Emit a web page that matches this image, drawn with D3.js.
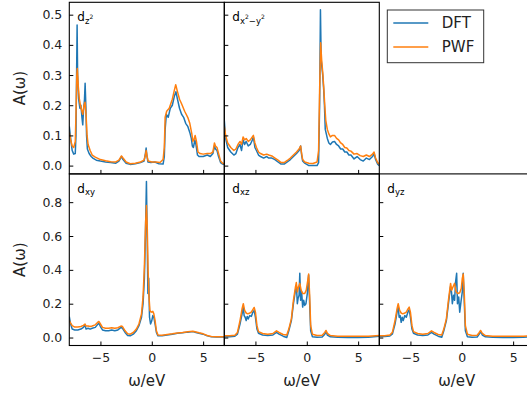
<!DOCTYPE html>
<html>
<head>
<meta charset="utf-8">
<script src="https://cdn.jsdelivr.net/npm/d3@7"></script>
<style>
  body { margin: 0; background: #fff; }
  svg { font-family: "DejaVu Sans", sans-serif; display: block; }
</style>
</head>
<body>
<div id="chart"></div>
<script>
// series are [omega, A] pairs
const dz2_dft = [[-8.03,0.13],[-7.9,0.09],[-7.75,0.05],[-7.6,0.038],[-7.45,0.04],[-7.38,0.1],[-7.32,0.3],[-7.27,0.466],[-7.22,0.3],[-7.12,0.22],[-7.0,0.19],[-6.9,0.2],[-6.8,0.16],[-6.72,0.135],[-6.65,0.18],[-6.55,0.22],[-6.49,0.273],[-6.42,0.2],[-6.35,0.1],[-6.27,0.055],[-6.1,0.04],[-5.9,0.03],[-5.7,0.024],[-5.4,0.018],[-5.0,0.015],[-4.5,0.012],[-4.0,0.01],[-3.5,0.008],[-3.2,0.015],[-2.95,0.03],[-2.8,0.02],[-2.5,0.008],[-2.1,0.004],[-1.6,0.006],[-1.1,0.01],[-0.75,0.015],[-0.62,0.04],[-0.55,0.058],[-0.48,0.035],[-0.38,0.012],[-0.1,0.01],[0.3,0.012],[0.7,0.006],[1.1,0.005],[1.22,0.03],[1.3,0.12],[1.42,0.17],[1.6,0.16],[1.8,0.19],[2.0,0.2],[2.2,0.23],[2.35,0.245],[2.5,0.22],[2.7,0.19],[2.9,0.17],[3.1,0.16],[3.3,0.14],[3.5,0.13],[3.7,0.11],[3.85,0.09],[3.95,0.065],[4.05,0.06],[4.2,0.085],[4.3,0.07],[4.45,0.035],[4.6,0.03],[5.0,0.03],[5.4,0.035],[5.7,0.03],[5.95,0.04],[6.1,0.065],[6.2,0.055],[6.35,0.05],[6.5,0.03],[6.7,0.01],[6.9,0.005],[7.06,0.004]];
const dz2_pwf = [[-8.03,0.11],[-7.9,0.085],[-7.75,0.065],[-7.6,0.06],[-7.45,0.08],[-7.38,0.17],[-7.3,0.3],[-7.25,0.322],[-7.15,0.26],[-7.05,0.22],[-6.95,0.2],[-6.8,0.18],[-6.72,0.17],[-6.6,0.2],[-6.5,0.21],[-6.4,0.17],[-6.3,0.1],[-6.2,0.07],[-6.0,0.05],[-5.8,0.035],[-5.5,0.028],[-5.0,0.02],[-4.5,0.016],[-4.0,0.013],[-3.5,0.012],[-3.2,0.018],[-2.95,0.032],[-2.8,0.025],[-2.5,0.012],[-2.1,0.006],[-1.6,0.008],[-1.1,0.012],[-0.75,0.018],[-0.62,0.035],[-0.55,0.05],[-0.45,0.03],[-0.35,0.015],[0,0.012],[0.4,0.012],[0.8,0.01],[1.1,0.02],[1.22,0.06],[1.3,0.16],[1.45,0.18],[1.7,0.19],[2.0,0.22],[2.2,0.25],[2.33,0.268],[2.5,0.245],[2.7,0.22],[2.9,0.205],[3.2,0.18],[3.5,0.16],[3.7,0.14],[3.9,0.105],[4.0,0.08],[4.1,0.085],[4.22,0.1],[4.35,0.08],[4.5,0.045],[4.7,0.04],[5.0,0.038],[5.4,0.04],[5.7,0.04],[5.95,0.045],[6.1,0.075],[6.2,0.065],[6.35,0.06],[6.5,0.04],[6.7,0.015],[6.9,0.008],[7.06,0.006]];

const dx2y2_dft = [[-8.03,0.15],[-7.9,0.09],[-7.7,0.06],[-7.4,0.045],[-7.1,0.035],[-6.9,0.04],[-6.7,0.06],[-6.5,0.07],[-6.35,0.05],[-6.2,0.085],[-6.05,0.07],[-5.9,0.08],[-5.7,0.065],[-5.5,0.07],[-5.3,0.085],[-5.2,0.095],[-5.05,0.06],[-4.9,0.05],[-4.7,0.035],[-4.5,0.03],[-4.2,0.025],[-3.9,0.03],[-3.7,0.025],[-3.4,0.025],[-3.1,0.02],[-2.8,0.012],[-2.5,0.005],[-2.2,0.005],[-1.9,0.012],[-1.6,0.02],[-1.3,0.03],[-1.0,0.04],[-0.75,0.05],[-0.6,0.065],[-0.5,0.035],[-0.4,0.015],[-0.2,0.008],[0.2,0.0],[0.6,0.0],[1.0,0.0],[1.15,0.01],[1.25,0.2],[1.33,0.516],[1.4,0.35],[1.55,0.3],[1.65,0.25],[1.72,0.2],[1.8,0.12],[2.0,0.09],[2.15,0.075],[2.3,0.07],[2.5,0.078],[2.7,0.08],[2.9,0.07],[3.1,0.065],[3.3,0.055],[3.5,0.055],[3.7,0.045],[3.9,0.045],[4.1,0.035],[4.3,0.035],[4.6,0.022],[4.9,0.03],[5.2,0.02],[5.5,0.015],[5.8,0.025],[6.1,0.02],[6.4,0.03],[6.55,0.04],[6.7,0.02],[6.9,0.005],[7.06,0.0]];
const dx2y2_pwf = [[-8.03,0.13],[-7.9,0.1],[-7.7,0.075],[-7.4,0.06],[-7.1,0.05],[-6.9,0.055],[-6.7,0.07],[-6.5,0.08],[-6.35,0.07],[-6.2,0.095],[-6.05,0.085],[-5.9,0.09],[-5.7,0.08],[-5.5,0.085],[-5.3,0.095],[-5.2,0.1],[-5.05,0.075],[-4.9,0.06],[-4.7,0.045],[-4.5,0.04],[-4.2,0.035],[-3.9,0.038],[-3.7,0.035],[-3.4,0.032],[-3.1,0.025],[-2.8,0.018],[-2.5,0.01],[-2.2,0.01],[-1.9,0.017],[-1.6,0.025],[-1.3,0.035],[-1.0,0.045],[-0.75,0.055],[-0.6,0.065],[-0.5,0.04],[-0.4,0.02],[-0.2,0.012],[0.2,0.008],[0.6,0.007],[1.0,0.012],[1.15,0.05],[1.25,0.25],[1.35,0.407],[1.45,0.35],[1.55,0.31],[1.65,0.26],[1.75,0.2],[1.85,0.15],[2.0,0.12],[2.15,0.105],[2.3,0.095],[2.5,0.1],[2.7,0.1],[2.9,0.09],[3.1,0.085],[3.3,0.075],[3.5,0.07],[3.7,0.06],[3.9,0.058],[4.1,0.05],[4.3,0.048],[4.6,0.038],[4.9,0.04],[5.2,0.033],[5.5,0.03],[5.8,0.035],[6.1,0.03],[6.4,0.038],[6.55,0.045],[6.7,0.025],[6.9,0.01],[7.06,0.005]];

const dxy_dft = [[-8.03,0.124],[-7.9,0.08],[-7.75,0.05],[-7.5,0.045],[-7.2,0.045],[-6.9,0.05],[-6.65,0.06],[-6.5,0.075],[-6.4,0.05],[-6.2,0.055],[-6.0,0.05],[-5.8,0.055],[-5.5,0.06],[-5.3,0.075],[-5.15,0.085],[-5.0,0.065],[-4.8,0.045],[-4.5,0.04],[-4.2,0.04],[-3.9,0.045],[-3.6,0.04],[-3.3,0.045],[-3.0,0.06],[-2.85,0.055],[-2.6,0.03],[-2.35,0.012],[-2.1,0.01],[-1.8,0.02],[-1.5,0.04],[-1.25,0.07],[-1.0,0.12],[-0.85,0.2],[-0.72,0.35],[-0.62,0.6],[-0.52,0.922],[-0.45,0.6],[-0.38,0.26],[-0.3,0.35],[-0.22,0.12],[-0.12,0.08],[0.0,0.1],[0.1,0.13],[0.2,0.12],[0.32,0.08],[0.45,0.03],[0.6,0.01],[1.0,0.01],[1.5,0.015],[2.0,0.02],[2.5,0.025],[3.0,0.028],[3.5,0.032],[4.0,0.035],[4.3,0.03],[4.6,0.025],[5.0,0.02],[5.4,0.01],[5.8,0.004],[6.3,0.003],[7.06,0.003]];
const dxy_pwf = [[-8.03,0.1],[-7.9,0.085],[-7.75,0.07],[-7.5,0.062],[-7.2,0.062],[-6.9,0.065],[-6.65,0.072],[-6.5,0.08],[-6.4,0.068],[-6.2,0.068],[-6.0,0.065],[-5.8,0.068],[-5.5,0.075],[-5.3,0.088],[-5.15,0.095],[-5.0,0.08],[-4.8,0.06],[-4.5,0.055],[-4.2,0.055],[-3.9,0.058],[-3.6,0.055],[-3.3,0.058],[-3.0,0.068],[-2.85,0.065],[-2.6,0.04],[-2.35,0.022],[-2.1,0.02],[-1.8,0.03],[-1.5,0.05],[-1.25,0.08],[-1.0,0.14],[-0.85,0.24],[-0.72,0.42],[-0.6,0.68],[-0.52,0.78],[-0.44,0.65],[-0.36,0.4],[-0.28,0.25],[-0.18,0.16],[-0.05,0.15],[0.1,0.155],[0.2,0.14],[0.32,0.1],[0.45,0.04],[0.6,0.015],[1.0,0.014],[1.5,0.018],[2.0,0.022],[2.5,0.027],[3.0,0.03],[3.5,0.034],[4.0,0.037],[4.3,0.033],[4.6,0.028],[5.0,0.022],[5.4,0.012],[5.8,0.006],[6.3,0.005],[7.06,0.004]];

const dxz_dft = [[-8.03,0.005],[-7.5,0.005],[-7.0,0.008],[-6.75,0.02],[-6.5,0.08],[-6.3,0.14],[-6.18,0.18],[-6.1,0.13],[-6.0,0.12],[-5.9,0.1],[-5.8,0.125],[-5.7,0.11],[-5.55,0.13],[-5.4,0.125],[-5.25,0.15],[-5.12,0.16],[-5.0,0.12],[-4.85,0.05],[-4.7,0.025],[-4.3,0.015],[-3.8,0.012],[-3.3,0.015],[-2.95,0.03],[-2.7,0.02],[-2.3,0.008],[-1.95,0.0],[-1.75,0.04],[-1.5,0.1],[-1.3,0.2],[-1.1,0.28],[-1.0,0.3],[-0.92,0.2],[-0.85,0.23],[-0.75,0.25],[-0.68,0.38],[-0.6,0.22],[-0.5,0.27],[-0.4,0.18],[-0.3,0.22],[-0.2,0.19],[-0.08,0.2],[0.05,0.26],[0.18,0.37],[0.28,0.2],[0.38,0.04],[0.55,0.005],[1.0,0.002],[1.5,0.003],[1.75,0.02],[1.87,0.035],[2.0,0.015],[2.3,0.004],[3.0,0.002],[4.0,0.001],[5.0,0.001],[6.0,0.002],[7.06,0.008]];
const dxz_pwf = [[-8.03,0.01],[-7.5,0.01],[-7.0,0.014],[-6.75,0.03],[-6.5,0.1],[-6.3,0.17],[-6.18,0.2],[-6.05,0.16],[-5.9,0.145],[-5.75,0.14],[-5.55,0.145],[-5.4,0.15],[-5.25,0.165],[-5.12,0.178],[-5.0,0.15],[-4.85,0.07],[-4.7,0.035],[-4.3,0.024],[-3.8,0.02],[-3.3,0.024],[-2.95,0.04],[-2.7,0.03],[-2.3,0.018],[-1.95,0.015],[-1.75,0.05],[-1.5,0.11],[-1.3,0.22],[-1.1,0.3],[-1.02,0.325],[-0.92,0.27],[-0.8,0.3],[-0.68,0.32],[-0.55,0.28],[-0.4,0.26],[-0.2,0.26],[-0.05,0.28],[0.1,0.34],[0.18,0.375],[0.28,0.25],[0.38,0.07],[0.55,0.02],[1.0,0.012],[1.5,0.014],[1.75,0.03],[1.87,0.042],[2.0,0.025],[2.3,0.012],[3.0,0.008],[4.0,0.007],[5.0,0.007],[6.0,0.008],[7.06,0.012]];

const dyz_dft = [[-8.03,0.006],[-7.5,0.006],[-7.0,0.009],[-6.75,0.022],[-6.5,0.08],[-6.3,0.15],[-6.19,0.185],[-6.1,0.12],[-6.0,0.13],[-5.9,0.09],[-5.8,0.12],[-5.7,0.1],[-5.55,0.13],[-5.4,0.12],[-5.25,0.15],[-5.12,0.165],[-5.0,0.12],[-4.85,0.05],[-4.7,0.025],[-4.3,0.015],[-3.8,0.012],[-3.3,0.015],[-2.95,0.03],[-2.7,0.02],[-2.3,0.008],[-1.95,0.002],[-1.75,0.04],[-1.5,0.1],[-1.3,0.2],[-1.1,0.3],[-1.0,0.27],[-0.92,0.2],[-0.8,0.25],[-0.7,0.22],[-0.6,0.33],[-0.5,0.38],[-0.42,0.2],[-0.3,0.24],[-0.2,0.15],[-0.08,0.21],[0.05,0.27],[0.14,0.38],[0.25,0.2],[0.35,0.04],[0.55,0.005],[1.0,0.002],[1.5,0.003],[1.7,0.02],[1.83,0.035],[2.0,0.015],[2.3,0.004],[3.0,0.002],[4.0,0.001],[5.0,0.001],[6.0,0.002],[7.06,0.006]];
const dyz_pwf = [[-8.03,0.011],[-7.5,0.011],[-7.0,0.015],[-6.75,0.032],[-6.5,0.1],[-6.3,0.17],[-6.19,0.2],[-6.05,0.16],[-5.9,0.145],[-5.75,0.14],[-5.55,0.145],[-5.4,0.15],[-5.25,0.168],[-5.12,0.18],[-5.0,0.15],[-4.85,0.07],[-4.7,0.035],[-4.3,0.024],[-3.8,0.02],[-3.3,0.024],[-2.95,0.04],[-2.7,0.03],[-2.3,0.018],[-1.95,0.015],[-1.75,0.05],[-1.5,0.11],[-1.3,0.22],[-1.09,0.32],[-0.98,0.28],[-0.85,0.3],[-0.7,0.32],[-0.55,0.27],[-0.4,0.26],[-0.2,0.265],[-0.05,0.29],[0.05,0.35],[0.14,0.375],[0.25,0.25],[0.35,0.07],[0.55,0.02],[1.0,0.012],[1.5,0.014],[1.7,0.03],[1.83,0.042],[2.0,0.025],[2.3,0.012],[3.0,0.008],[4.0,0.007],[5.0,0.007],[6.0,0.008],[7.06,0.01]];

const xTicks = [-5, 0, 5];
const yTicksTop = [0.0, 0.1, 0.2, 0.3, 0.4, 0.5];
const yTicksBottom = [0.0, 0.2, 0.4, 0.6, 0.8];
const seriesNames = ["DFT", "PWF"];
const colors = ["#1f77b4", "#ff7f0e"];

const W = 527, H = 396;
const left0 = 69.3, top0 = 2.3, pw = 155, ph = 171.6;

const svg = d3.select("#chart").append("svg")
  .attr("width", W).attr("height", H);

const x = d3.scaleLinear().domain([-8.03, 7.06]).range([0, pw]);
const yTop = d3.scaleLinear().domain([-0.0275, 0.541]).range([ph, 0]);
const yBot = d3.scaleLinear().domain([-0.047, 0.967]).range([ph, 0]);

const panels = [
  { row: 0, col: 0, label: ["d", "z", "2"], dft: dz2_dft, pwf: dz2_pwf },
  { row: 0, col: 1, label: ["d", "x", "2", "\u2212y", "2"], dft: dx2y2_dft, pwf: dx2y2_pwf },
  { row: 1, col: 0, label: ["d", "xy"], dft: dxy_dft, pwf: dxy_pwf },
  { row: 1, col: 1, label: ["d", "xz"], dft: dxz_dft, pwf: dxz_pwf },
  { row: 1, col: 2, label: ["d", "yz"], dft: dyz_dft, pwf: dyz_pwf },
];

panels.forEach((p, i) => {
  const y = p.row === 0 ? yTop : yBot;
  const g = svg.append("g")
    .attr("transform", `translate(${left0 + p.col * pw}, ${top0 + p.row * ph})`);

  g.append("clipPath").attr("id", "clip" + i)
    .append("rect").attr("width", pw).attr("height", ph);

  const line = d3.line().x((d) => x(d[0])).y((d) => y(d[1]));
  [p.dft, p.pwf].forEach((s, k) => {
    g.append("path")
      .datum(s)
      .attr("clip-path", `url(#clip${i})`)
      .attr("fill", "none")
      .attr("stroke", colors[k])
      .attr("stroke-width", 1.5)
      .attr("stroke-linejoin", "round")
      .attr("d", line);
  });

  // axes, ticks pointing inwards
  const yAxis = d3.axisLeft(y)
    .tickValues(p.row === 0 ? yTicksTop : yTicksBottom)
    .tickSize(-4).tickPadding(7)
    .tickFormat(p.col === 0 ? d3.format(".1f") : () => "");
  const gy = g.append("g").call(yAxis);
  const xAxis = d3.axisBottom(x)
    .tickValues(xTicks)
    .tickSize(-4).tickPadding(8)
    .tickFormat(p.row === 1 ? d3.format("d") : () => "");
  const gx = g.append("g").attr("transform", `translate(0, ${ph})`).call(xAxis);
  [gx, gy].forEach((a) => {
    a.select(".domain").remove();
    a.selectAll("line").attr("stroke", "#000").attr("stroke-width", 1);
    a.selectAll("text").attr("fill", "#222").style("font-size", "12.5px")
      .style("font-family", "DejaVu Sans");
  });

  g.append("rect")
    .attr("width", pw).attr("height", ph)
    .attr("fill", "none").attr("stroke", "#000").attr("stroke-width", 1.1);

  // orbital label
  const t = g.append("text").attr("x", 8).attr("y", 19)
    .style("font-size", "12px").attr("fill", "#000");
  t.append("tspan").text(p.label[0]);
  if (p.label.length === 2) {
    t.append("tspan").attr("dy", 2.5).style("font-size", "8.5px").text(p.label[1]);
  } else {
    for (let j = 1; j < p.label.length; j += 2) {
      t.append("tspan").attr("dy", j === 1 ? 2.5 : 5).style("font-size", "8.5px").text(p.label[j]);
      t.append("tspan").attr("dy", -5).style("font-size", "6px").text(p.label[j + 1]);
    }
  }

  if (p.col === 0) {
    svg.append("text")
      .attr("transform", `translate(20, ${top0 + p.row * ph + ph / 2}) rotate(-90)`)
      .attr("text-anchor", "middle").attr("dominant-baseline", "central")
      .style("font-size", "15px").attr("fill", "#222").text("A(\u03c9)");
  }
  if (p.row === 1) {
    svg.append("text")
      .attr("x", left0 + p.col * pw + pw / 2).attr("y", 381)
      .attr("text-anchor", "middle").attr("dominant-baseline", "central")
      .style("font-size", "15px").attr("fill", "#222").text("\u03c9/eV");
  }
});

// legend in the empty top-right panel
const lg = svg.append("g").attr("transform", "translate(387.3, 10)");
lg.append("rect").attr("width", 96.4).attr("height", 52.7)
  .attr("fill", "#fff").attr("stroke", "#333").attr("stroke-width", 1);
seriesNames.forEach((name, k) => {
  const yy = 13 + k * 24;
  lg.append("line").attr("x1", 6).attr("x2", 41).attr("y1", yy).attr("y2", yy)
    .attr("stroke", colors[k]).attr("stroke-width", 1.5);
  lg.append("text").attr("x", 54.5).attr("y", yy)
    .attr("dominant-baseline", "central")
    .style("font-size", "15px").attr("fill", "#222").text(name);
});
</script>
</body>
</html>
